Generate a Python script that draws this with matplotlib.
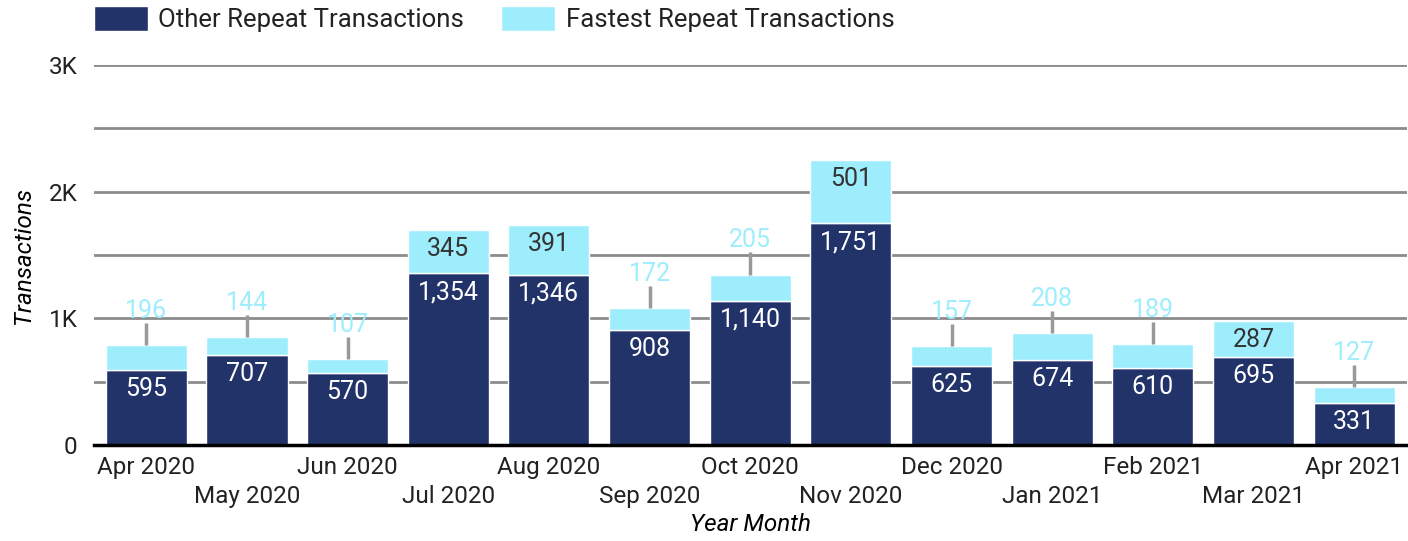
import numpy as np
import matplotlib
matplotlib.use("Agg")
import matplotlib.pyplot as plt
from matplotlib.ticker import MultipleLocator, FuncFormatter

# Data
months = ["Apr 2020", "May 2020", "Jun 2020", "Jul 2020", "Aug 2020", "Sep 2020",
          "Oct 2020", "Nov 2020", "Dec 2020", "Jan 2021", "Feb 2021", "Mar 2021",
          "Apr 2021"]
other_repeat = [595, 707, 570, 1354, 1346, 908, 1140, 1751, 625, 674, 610, 695, 331]
fastest_repeat = [196, 144, 107, 345, 391, 172, 205, 501, 157, 208, 189, 287, 127]

navy = "#22336a"
cyan = "#9eedfd"
grid_col = "#8c8c8c"
text_col = "#222222"

plt.rcParams["font.family"] = ["Roboto", "DejaVu Sans"]
plt.rcParams["text.color"] = text_col

fig = plt.figure(figsize=(14.08, 5.41), dpi=100)
W, H = 1408, 541
ax = fig.add_axes([94 / W, (H - 445) / H, 1312.5 / W, 380 / H])

x = np.arange(len(months))
other = np.array(other_repeat)
fast = np.array(fastest_repeat)
totals = other + fast

ax.bar(x, other, width=0.805, color=navy, edgecolor="white", linewidth=1.0,
       label="Other Repeat Transactions", zorder=3)
ax.bar(x, fast, bottom=other, width=0.805, color=cyan, edgecolor="white",
       linewidth=1.0, label="Fastest Repeat Transactions", zorder=3)

# labels inside the navy bars
for xi, v in zip(x, other):
    ax.annotate(f"{v:,}", xy=(xi, v), xytext=(0, -7), textcoords="offset pixels",
                ha="center", va="top", color="white", fontsize=18, zorder=5)

# labels for the cyan segments: inside if tall enough, else above with a leader line
for xi, b, v, t in zip(x, other, fast, totals):
    if v >= 250:
        ax.annotate(f"{v:,}", xy=(xi, t), xytext=(0, -7), textcoords="offset pixels",
                    ha="center", va="top", color="#333333", fontsize=18, zorder=5)
    else:
        ax.vlines(xi, t, t + 175, color="#999999", linewidth=2.5, zorder=4)
        ax.text(xi, t + 175, f"{v:,}", ha="center", va="bottom", color=cyan,
                fontsize=18, zorder=5)

ax.set_xlim(-0.52, len(months) - 0.48)
ax.set_ylim(0, 3000)

ax.yaxis.set_major_locator(MultipleLocator(1000))
ax.yaxis.set_minor_locator(MultipleLocator(500))
ax.yaxis.set_major_formatter(FuncFormatter(lambda v, p: "0" if v == 0 else f"{int(v / 1000)}K"))
ax.grid(axis="y", which="both", color=grid_col, linewidth=2, zorder=0)
ax.set_axisbelow(True)

ax.set_xticks(x)
ax.set_xticklabels([m if i % 2 == 0 else "\n" + m for i, m in enumerate(months)],
                   linespacing=1.3)
ax.tick_params(axis="x", length=0, pad=8, labelsize=17.5, labelcolor=text_col)
ax.tick_params(axis="y", which="both", length=0, pad=12, labelsize=17.5, labelcolor=text_col)

for s in ["top", "right", "left"]:
    ax.spines[s].set_visible(False)
ax.spines["bottom"].set_color("black")
ax.spines["bottom"].set_linewidth(2.5)
ax.spines["bottom"].set_zorder(6)

ax.set_xlabel("Year Month", fontsize=17.5, style="italic", labelpad=4)
ax.set_ylabel("Transactions", fontsize=17.5, style="italic", labelpad=10)

handles, labels = ax.get_legend_handles_labels()
fig.legend(handles, labels, loc="upper left", bbox_to_anchor=(94 / W, 1 - 6 / H),
           ncol=2, frameon=False, fontsize=18.5, borderpad=0, borderaxespad=0,
           handlelength=2.1, handleheight=1.1, handletextpad=0.4,
           columnspacing=1.45)

fig.savefig("out.png", dpi=100)
